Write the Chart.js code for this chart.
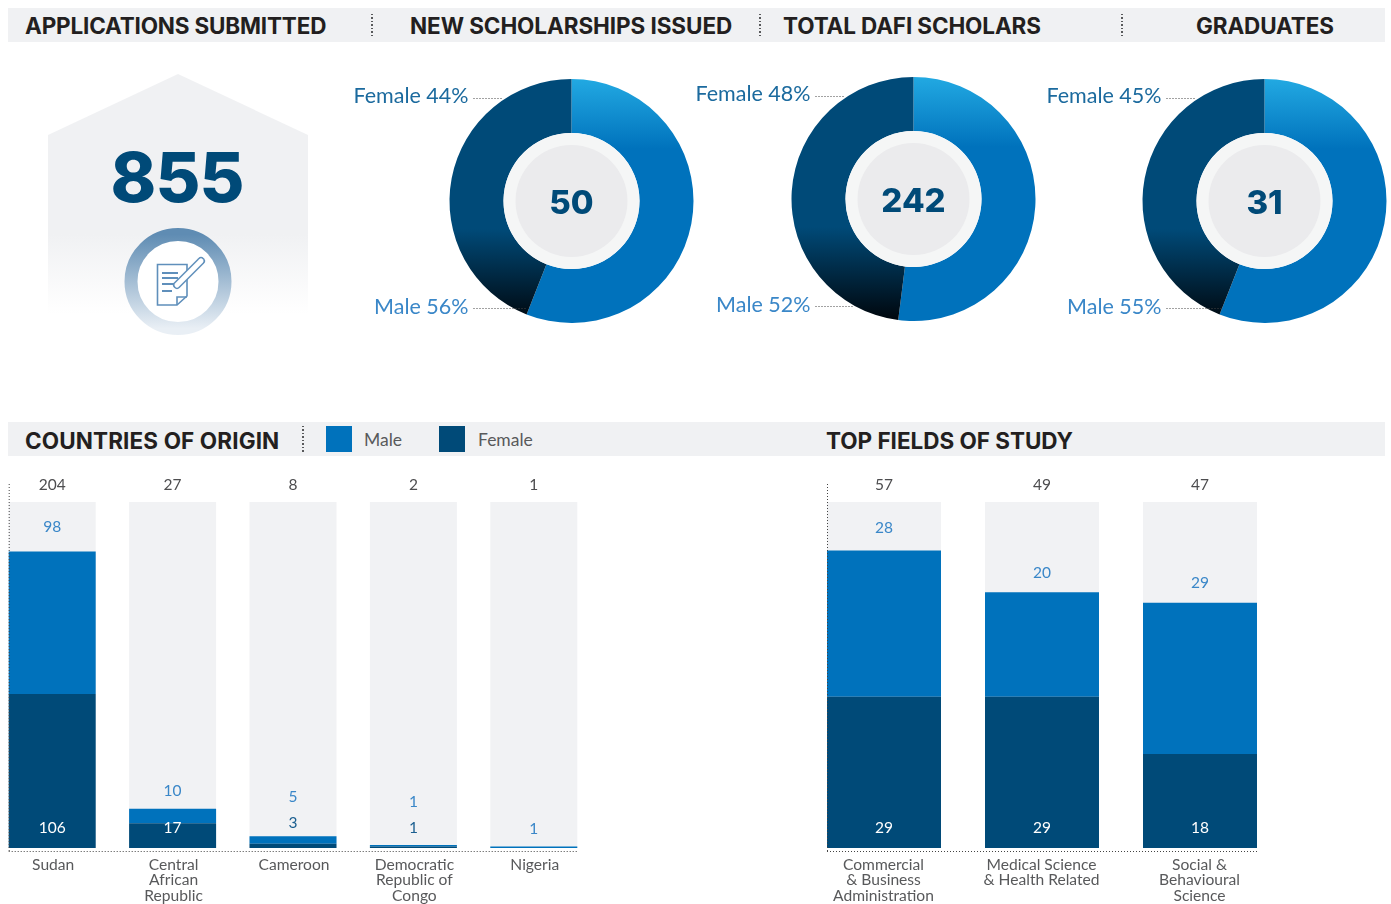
<!DOCTYPE html>
<html>
<head>
<meta charset="utf-8">
<title>DAFI scholars</title>
<script src="https://cdn.jsdelivr.net/npm/chart.js@4/dist/chart.umd.min.js"></script>
<style>
  html, body { margin: 0; padding: 0; background: #fff; }
  body { position: relative; width: 1391px; height: 904px; overflow: hidden; font-family: Lato, sans-serif; }
  .band { position: absolute; left: 8px; width: 1377px; height: 34px; background: #f0f1f3; }
  .title { position: absolute; font: 700 22.5px Inter, sans-serif; color: #231f20; white-space: nowrap; line-height: 35px; }
  .sep { position: absolute; width: 1.5px; background: repeating-linear-gradient(#58595b 0, #58595b 1.5px, transparent 1.5px, transparent 3.5px); }
  .swatch { position: absolute; top: 426px; width: 26px; height: 26px; }
  .legend { position: absolute; top: 429px; font: 17.5px Lato, sans-serif; color: #58595b; line-height: 22px; }
  .house { position: absolute; left: 48px; top: 74px; width: 260px; height: 250px;
    background: linear-gradient(#f0f1f3 0, #f0f1f3 160px, #fff 240px);
    clip-path: polygon(0 61px, 130px 0, 260px 61px, 260px 250px, 0 250px); }
  .big { position: absolute; left: 47px; width: 260px; top: 136px; text-align: center; font: 800 69px Inter, sans-serif; color: #004a78; line-height: 82px; letter-spacing: -1px; }
  canvas { position: absolute; }
  svg { position: absolute; }
</style>
</head>
<body>
<div class="band" style="top:8px"></div>
<div class="band" style="top:422px"></div>
<div class="title" style="left:25px;top:8px;letter-spacing:-0.17px">APPLICATIONS SUBMITTED</div>
<div class="title" style="left:410px;top:8px;letter-spacing:-0.08px">NEW SCHOLARSHIPS ISSUED</div>
<div class="title" style="left:783px;top:8px;letter-spacing:-0.13px">TOTAL DAFI SCHOLARS</div>
<div class="title" style="left:1196px;top:8px;letter-spacing:-0.13px">GRADUATES</div>
<div class="title" style="left:25px;top:423px;letter-spacing:0.12px">COUNTRIES OF ORIGIN</div>
<div class="title" style="left:826px;top:423px;letter-spacing:-0.03px">TOP FIELDS OF STUDY</div>
<div class="sep" style="left:371px;top:14px;height:22px"></div>
<div class="sep" style="left:759px;top:14px;height:22px"></div>
<div class="sep" style="left:1121px;top:14px;height:22px"></div>
<div class="sep" style="left:302px;top:426px;height:26px"></div>
<div class="swatch" style="left:326px;background:#0072bc"></div>
<div class="legend" style="left:364px">Male</div>
<div class="swatch" style="left:439px;background:#004a78"></div>
<div class="legend" style="left:478px">Female</div>

<div class="house"></div>
<div class="big" id="applications"></div>
<svg width="108" height="108" viewBox="124 227 108 108" style="left:124px;top:227px">
  <defs>
    <linearGradient id="ringFill" x1="0" y1="0" x2="0" y2="1">
      <stop offset="0" stop-color="#5f8cb3"/>
      <stop offset="1" stop-color="#e9eff5"/>
    </linearGradient>
  </defs>
  <circle cx="178" cy="281.5" r="47" fill="#fff" stroke="url(#ringFill)" stroke-width="13"/>
  <g fill="none" stroke="#5f8fbb" stroke-width="1.6">
    <path d="M157.5 264.5H187V296L177 305H157.5Z"/>
    <path d="M177 305V297H187"/>
    <path d="M162 273H178M162 278H178M162 284H176M162 291H172" stroke-width="2.2"/>
    <path d="M177 285L201 261" stroke-width="8" stroke-linecap="round"/>
    <path d="M177 285L201 261" stroke="#fff" stroke-width="5" stroke-linecap="round"/>
  </g>
</svg>

<canvas id="donutNew" width="355" height="244" style="left:340px;top:79px"></canvas>
<canvas id="donutTotal" width="345" height="244" style="left:691px;top:77px"></canvas>
<canvas id="donutGrad" width="345" height="244" style="left:1042px;top:79px"></canvas>
<canvas id="barCountries" width="602" height="428" style="left:-8px;top:476px"></canvas>
<canvas id="barFields" width="474" height="428" style="left:805px;top:476px"></canvas>

<script>
const applicationsSubmitted = 855;

// Donuts: printed percentages
const genderLabels = ['Male', 'Female'];
const newScholarships = 50;
const newSplit = [56, 44];
const totalScholars = 242;
const totalSplit = [52, 48];
const graduates = 31;
const gradSplit = [55, 45];
// the graduates slices are drawn a bit wider than the printed 55/45
const gradSlices = [56, 44];

// Countries of origin
const countries = ['Sudan', ['Central', 'African', 'Republic'], 'Cameroon', ['Democratic', 'Republic of', 'Congo'], 'Nigeria'];
const countryTotals = [204, 27, 8, 2, 1];
const countryMale = [98, 10, 5, 1, 1];
const countryFemale = [106, 17, 3, 1, 0];

// Fields of study
const fields = [['Commercial', '& Business', 'Administration'], ['Medical Science', '& Health Related'], ['Social &', 'Behavioural', 'Science']];
const fieldTotals = [57, 49, 47];
const fieldMale = [28, 20, 29];
const fieldFemale = [29, 29, 18];

const MALE = '#0072bc';
const FEMALE = '#004a78';
const TRACK = '#f1f2f4';
const LABEL_BLUE = '#3a87c8';
const FONT = 'Lato, sans-serif';

document.getElementById('applications').textContent = applicationsSubmitted;

const dotted = (c, x1, y1, x2, y2, color) => {
    c.save();
    c.strokeStyle = color || '#444';
    c.lineWidth = 1;
    c.setLineDash([1, 2]);
    c.beginPath();
    c.moveTo(x1, y1);
    c.lineTo(x2, y2);
    c.stroke();
    c.restore();
};

// Rings, center number and the two side labels of a donut
const donutNotes = {
    id: 'donutNotes',
    afterDatasetsDraw(chart, args, opts) {
        const c = chart.ctx;
        const arc = chart.getDatasetMeta(0).data[0];
        c.save();
        c.fillStyle = '#f5f6f6';
        c.beginPath(); c.arc(arc.x, arc.y, 68, 0, Math.PI * 2); c.fill();
        c.fillStyle = '#ebebed';
        c.beginPath(); c.arc(arc.x, arc.y, 56, 0, Math.PI * 2); c.fill();
        c.fillStyle = FEMALE;
        c.font = '800 33px Inter, sans-serif';
        c.textAlign = 'center';
        c.textBaseline = 'middle';
        c.fillText(opts.center, arc.x, arc.y + 3);

        c.font = '21.5px ' + FONT;
        c.textAlign = 'right';
        const right = arc.x - 103;
        c.fillStyle = '#1b6a9e';
        c.fillText('Female ' + opts.split[1] + '%', right, 17);
        dotted(c, right + 5, 19.5, right + 35, 19.5);
        c.fillStyle = LABEL_BLUE;
        c.fillText('Male ' + opts.split[0] + '%', right, 228);
        dotted(c, right + 5, 229.5, right + opts.maleLead, 229.5);
        c.restore();
    }
};

const makeDonut = (id, slices, split, center, maleLead) => new Chart(document.getElementById(id), {
    type: 'doughnut',
    data: {
        labels: genderLabels,
        datasets: [{
            data: slices,
            borderWidth: 0,
            backgroundColor(ctx) {
                const area = ctx.chart.chartArea;
                if (!area) return MALE;
                const h = area.bottom - area.top;
                const g = ctx.chart.ctx.createLinearGradient(0, area.top, 0, area.bottom);
                if (ctx.dataIndex === 0) {
                    g.addColorStop(0, '#22a9e2');
                    g.addColorStop(70 / h, MALE);
                    g.addColorStop(1, MALE);
                } else {
                    g.addColorStop(0, FEMALE);
                    g.addColorStop(150 / h, FEMALE);
                    g.addColorStop(1, '#00060c');
                }
                return g;
            }
        }]
    },
    options: {
        responsive: false,
        animation: false,
        cutout: 68,
        layout: { padding: { left: id === 'donutNew' ? 108 : 100 } },
        plugins: {
            legend: { display: false },
            tooltip: { enabled: false },
            donutNotes: { split, center, maleLead }
        }
    },
    plugins: [donutNotes]
});

makeDonut('donutNew', newSplit, newSplit, newScholarships, 57);
makeDonut('donutTotal', totalSplit, totalSplit, totalScholars, 42);
makeDonut('donutGrad', gradSlices, gradSplit, graduates, 60);

// Grey tracks behind the bars, dotted axes and the number labels
const barNotes = {
    id: 'barNotes',
    beforeDatasetsDraw(chart) {
        const c = chart.ctx;
        const area = chart.chartArea;
        c.save();
        c.fillStyle = TRACK;
        chart.getDatasetMeta(0).data.forEach(bar => {
            c.fillRect(bar.x - bar.width / 2, area.top, bar.width, area.bottom - area.top);
        });
        c.restore();
    },
    afterDatasetsDraw(chart, args, opts) {
        const c = chart.ctx;
        const area = chart.chartArea;
        const female = chart.getDatasetMeta(0).data;
        const male = chart.getDatasetMeta(1).data;
        const left = female[0].x - female[0].width / 2;
        const last = female[female.length - 1];
        const right = last.x + last.width / 2 + 1;
        dotted(c, left + 0.5, 8, left + 0.5, area.bottom + 3);
        dotted(c, left, area.bottom + 3.5, right, area.bottom + 3.5);

        c.save();
        c.font = '15.5px ' + FONT;
        c.textAlign = 'center';
        c.textBaseline = 'middle';
        female.forEach((bar, i) => {
            c.fillStyle = '#4d4d4f';
            c.fillText(opts.totals[i], bar.x, 9);
            c.fillStyle = LABEL_BLUE;
            c.fillText(opts.maleValues[i], bar.x, male[i].y - opts.maleGaps[i]);
            if (opts.femaleValues[i] > 0) {
                const tall = area.bottom - bar.y > 18;
                c.fillStyle = tall ? '#fff' : '#1b5f90';
                c.fillText(opts.femaleValues[i], bar.x, area.bottom - 20 - (opts.femaleLift[i] || 0));
            }
        });
        c.restore();
    }
};

const makeBars = (id, labels, male, female, totals, yMax, barShare, maleGaps, femaleLift, labelOffset) => new Chart(document.getElementById(id), {
    type: 'bar',
    data: {
        labels,
        datasets: [
            { label: 'Female', data: female, backgroundColor: FEMALE },
            { label: 'Male', data: male, backgroundColor: MALE }
        ]
    },
    options: {
        responsive: false,
        animation: false,
        layout: { padding: { top: 26 } },
        datasets: { bar: { categoryPercentage: barShare, barPercentage: 1 } },
        scales: {
            x: {
                stacked: true,
                grid: { display: false },
                border: { display: false },
                afterFit(scale) { scale.height = 56; },
                ticks: {
                    autoSkip: false,
                    maxRotation: 0,
                    padding: 1,
                    labelOffset,
                    color: '#58595b',
                    font: { family: FONT, size: 15.6, lineHeight: 0.99 }
                }
            },
            y: { stacked: true, display: false, min: 0, max: yMax }
        },
        plugins: {
            legend: { display: false },
            tooltip: { enabled: false },
            barNotes: { totals, maleValues: male, femaleValues: female, maleGaps, femaleLift }
        }
    },
    plugins: [barNotes]
});

makeBars('barCountries', countries, countryMale, countryFemale, countryTotals, 238, 0.7226,
    [24, 18, 39, 43, 18], [0, 0, 5, 0, 0], 1);
makeBars('barFields', fields, fieldMale, fieldFemale, fieldTotals, 66.3, 0.7215,
    [23, 19, 20], [0, 0, 0], -0.5);
</script>
</body>
</html>
